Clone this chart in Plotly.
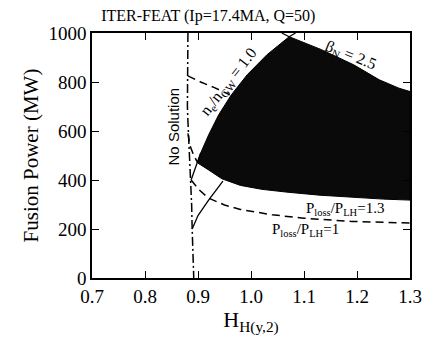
import plotly.graph_objects as go

# Shaded operating window boundaries
gw_left_hh = [0.899, 0.905, 0.920, 0.939, 0.963, 0.993, 1.030, 1.072]
gw_left_p = [470, 510, 584, 666, 748, 830, 911, 985]
betan_hh = [1.072, 1.133, 1.194, 1.242, 1.279, 1.300]
betan_p = [985, 932, 870, 809, 775, 761]
lower13_hh = [1.300, 1.250, 1.190, 1.130, 1.070, 1.020, 0.980, 0.945, 0.920, 0.899]
lower13_p = [318, 322, 329, 338, 350, 362, 378, 405, 441, 470]

# small extensions of the two limit lines beyond the crossing point
gw_ext_hh = [1.072, 1.084]
gw_ext_p = [985, 1000]
bn_ext_hh = [1.072, 1.058]
bn_ext_p = [985, 1000]

# "No Solution" dash-dot boundary
nosol_hh = [0.881, 0.880, 0.880, 0.881, 0.882, 0.885, 0.887, 0.888, 0.889, 0.891, 0.892]
nosol_p = [1000, 850, 700, 640, 590, 500, 400, 300, 200, 100, 0]

# n/nGW = 1.0 solid line (lower part)
gw_low_hh = [0.889, 0.900, 0.920, 0.947]
gw_low_p = [200, 255, 318, 395]
gw_mid_hh = [0.887, 0.899, 0.905]
gw_mid_p = [400, 470, 510]

# Ploss/PLH = 1 dashed (upper and lower branch)
pl1_up_hh = [0.881, 0.905, 0.930, 0.960]
pl1_up_p = [825, 800, 778, 748]
pl1_low_hh = [0.887, 0.902, 0.920, 0.950, 0.980, 1.000, 1.040, 1.100, 1.190, 1.300]
pl1_low_p = [400, 360, 326, 298, 280, 272, 258, 244, 231, 224]

# Ploss/PLH = 1.3 dashed (upper part, left of window)
pl13_up_hh = [0.881, 0.885, 0.892, 0.899]
pl13_up_p = [590, 540, 500, 472]

x_ticks = [0.7, 0.8, 0.9, 1.0, 1.1, 1.2, 1.3]
x_ticklabels = ["0.7", "0.8", "0.9", "1.0", "1.1", "1.2", "1.3"]
y_ticks = [0, 200, 400, 600, 800, 1000]

serif = "Liberation Serif, Times New Roman, serif"

fig = go.Figure()

# shaded region
shade_x = gw_left_hh + betan_hh[1:] + lower13_hh
shade_y = gw_left_p + betan_p[1:] + lower13_p
fig.add_trace(go.Scatter(x=shade_x, y=shade_y, fill="toself", fillcolor="#0a0a0a",
                         mode="lines", line=dict(color="black", width=1), hoverinfo="skip"))

dashdot = "9px,3px,2px,3px"
dashed = "8px,5px"
fig.add_trace(go.Scatter(x=gw_ext_hh, y=gw_ext_p, mode="lines",
                         line=dict(color="black", width=1.2)))
fig.add_trace(go.Scatter(x=bn_ext_hh, y=bn_ext_p, mode="lines",
                         line=dict(color="black", width=1.2)))
fig.add_trace(go.Scatter(x=nosol_hh, y=nosol_p, mode="lines",
                         line=dict(color="black", width=1.5, dash=dashdot)))
fig.add_trace(go.Scatter(x=gw_low_hh, y=gw_low_p, mode="lines",
                         line=dict(color="black", width=1.3)))
fig.add_trace(go.Scatter(x=gw_mid_hh, y=gw_mid_p, mode="lines",
                         line=dict(color="black", width=1.3)))
fig.add_trace(go.Scatter(x=pl1_up_hh, y=pl1_up_p, mode="lines",
                         line=dict(color="black", width=1.5, dash=dashed)))
fig.add_trace(go.Scatter(x=pl1_low_hh, y=pl1_low_p, mode="lines",
                         line=dict(color="black", width=1.5, dash=dashed)))
fig.add_trace(go.Scatter(x=pl13_up_hh, y=pl13_up_p, mode="lines",
                         line=dict(color="black", width=1.5, dash=dashed)))

annots = [
    dict(x=0.854, y=617, text="No Solution", textangle=-90,
         font=dict(family="Liberation Sans, Arial, sans-serif", size=15)),
    dict(x=0.957, y=800, text="n<sub>e</sub>/n<sub>GW</sub> = 1.0", textangle=-52,
         font=dict(family=serif, size=16)),
    dict(x=1.187, y=907, text="β<sub>N</sub> = 2.5", textangle=22,
         font=dict(family=serif, size=16)),
    dict(x=1.178, y=280, text="P<sub>loss</sub>/P<sub>LH</sub>=1.3", textangle=0,
         font=dict(family=serif, size=15)),
    dict(x=1.102, y=196, text="P<sub>loss</sub>/P<sub>LH</sub>=1", textangle=0,
         font=dict(family=serif, size=15)),
]
for a in annots:
    a.update(xref="x", yref="y", showarrow=False, font_color="black")
    fig.add_annotation(**a)

fig.update_layout(
    width=434, height=340,
    margin=dict(l=92, r=12, t=33, b=62),
    paper_bgcolor="white", plot_bgcolor="white",
    showlegend=False,
    font=dict(family=serif, color="black", size=15),
    title=dict(text="ITER-FEAT (Ip=17.4MA, Q=50)", x=0.48, xanchor="center",
               y=0.955, yanchor="middle", font=dict(family=serif, size=16, color="black")),
)
fig.update_xaxes(range=[0.7, 1.3], tickvals=x_ticks, ticktext=x_ticklabels,
                 ticks="inside", ticklen=7, tickwidth=1.3, tickcolor="black",
                 showline=True, linecolor="black", linewidth=1.5, mirror="ticks",
                 showgrid=False, zeroline=False,
                 title=dict(text="H<sub>H(y,2)</sub>", font=dict(size=22), standoff=6),
                 tickfont=dict(size=19))
fig.update_yaxes(range=[0, 1000], tickvals=y_ticks,
                 ticks="inside", ticklen=7, tickwidth=1.3, tickcolor="black",
                 showline=True, linecolor="black", linewidth=1.5, mirror="ticks",
                 showgrid=False, zeroline=False,
                 title=dict(text="Fusion Power (MW)", font=dict(size=21), standoff=4),
                 tickfont=dict(size=19))

fig.write_html("out.html")
